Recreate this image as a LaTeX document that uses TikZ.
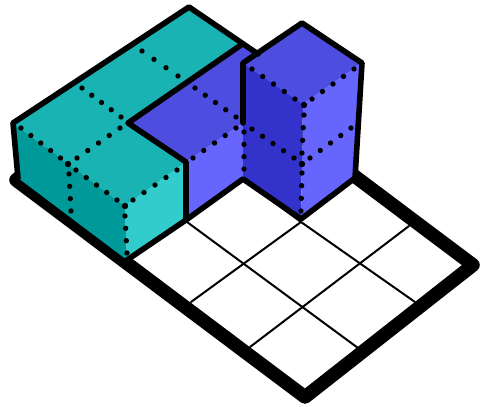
\documentclass[tikz,border=0pt]{standalone}
\usepackage{color}
\usetikzlibrary{calc}
\definecolor{tealtop}{HTML}{1AB3B3}
\definecolor{tealleft}{HTML}{009999}
\definecolor{tealright}{HTML}{33CCCC}
\definecolor{bluetop}{HTML}{4D4DE0}
\definecolor{blueleft}{HTML}{3333CC}
\definecolor{blueright}{HTML}{6666FF}

\begin{document}
\begin{tikzpicture}[x=.75pt, y=-.75pt, line join=round, line cap=round,
    boardline/.style={draw=black, fill=white, line width=10.2pt},
    gridline/.style={draw=black, line width=1.5pt},
    edgeline/.style={draw=black, line width=4.2pt},
    face/.style={draw=none}]
    \useasboundingbox (0,0) rectangle (486,407);
    % board
    \draw[boardline] (16,180) -- (305,397) -- (473,265) -- (184,48) -- cycle;
    \draw[gridline] (187,222) -- (358,348);
    \draw[gridline] (301,222) -- (415,302);
    \draw[gridline] (244,180) -- (301,222);
    \draw[gridline] (191,302) -- (301,222);
    \draw[gridline] (250,347) -- (409,226);
    % corners of the blocks
    \coordinate (tback) at (189,7);
    \coordinate (tleft) at (13,123);
    \coordinate (tnotch) at (128,123);
    \coordinate (tfront) at (125,206);
    \coordinate (tside) at (186,162);
    \coordinate (tjoin) at (241,45);
    \coordinate (tbottom) at (127,260);
    \coordinate (tlow) at (18,178);
    \coordinate (tsidelow) at (186,220);
    \coordinate (bjoin) at (258,54);
    \coordinate (bmid) at (243,123);
    \coordinate (blow) at (243,179);
    \coordinate (ctop) at (302,23);
    \coordinate (cleft) at (243,63);
    \coordinate (cright) at (362,63);
    \coordinate (cmid) at (303,104);
    \coordinate (cbottom) at (301,219);
    \coordinate (clow) at (355,178);
    % faces
    \fill[tealtop, face] (tleft) -- (tback) -- (tjoin) -- (tnotch) -- (tside) -- (tfront) -- cycle;
    \fill[tealleft, face] (tleft) -- (tfront) -- (tbottom) -- (tlow) -- cycle;
    \fill[tealright, face] (tfront) -- (tside) -- (tsidelow) -- (tbottom) -- cycle;
    \fill[bluetop, face] (tnotch) -- (tjoin) -- (bjoin) -- (cleft) -- (bmid) -- (tside) -- cycle;
    \fill[blueright, face] (tside) -- (bmid) -- (blow) -- (tsidelow) -- cycle;
    \fill[bluetop, face] (cleft) -- (ctop) -- (cright) -- (cmid) -- cycle;
    \fill[blueleft, face] (cleft) -- (cmid) -- (cbottom) -- (blow) -- cycle;
    \fill[blueright, face] (cmid) -- (cright) -- (clow) -- (cbottom) -- cycle;
    % outlines
    \draw[edgeline] (tlow) -- (tleft) -- (tback) -- (bjoin);
    \draw[edgeline] (tjoin) -- (tnotch) -- (tside) -- (tsidelow);
    \draw[edgeline] (tbottom) -- (tsidelow) -- (blow) -- (cbottom) -- (clow) -- (cright) -- (ctop) -- (cleft) -- (bmid);
    % dotted rows
    \foreach \ax/\ay/\bx/\by/\n in {21/128/60.5/158/4, 77/158/120/128/4, 82/88/121/117/4,
        142/51/178/76/3, 76/170/117/200/4, 133/200/177/170/4, 69/174/71/211/3, 125/216/127/253/3,
        195/88/236/117/4, 193/158/236/128/4, 244/132/244/169/3, 252/129/294/158/4,
        252/69/295/99/4, 312/99/354/69/4, 304/115/302/153/3, 310/158/351/128/4, 302/173/301/211/3}
        \foreach \i in {0,...,\n}
            \fill ($(\ax,\ay)!\i/\n!(\bx,\by)$) circle (2pt);
    \foreach \ax/\ay in {68/164, 125/206, 302/164, 304/105}
        \fill (\ax,\ay) circle (2.4pt);
\end{tikzpicture}
\end{document}
